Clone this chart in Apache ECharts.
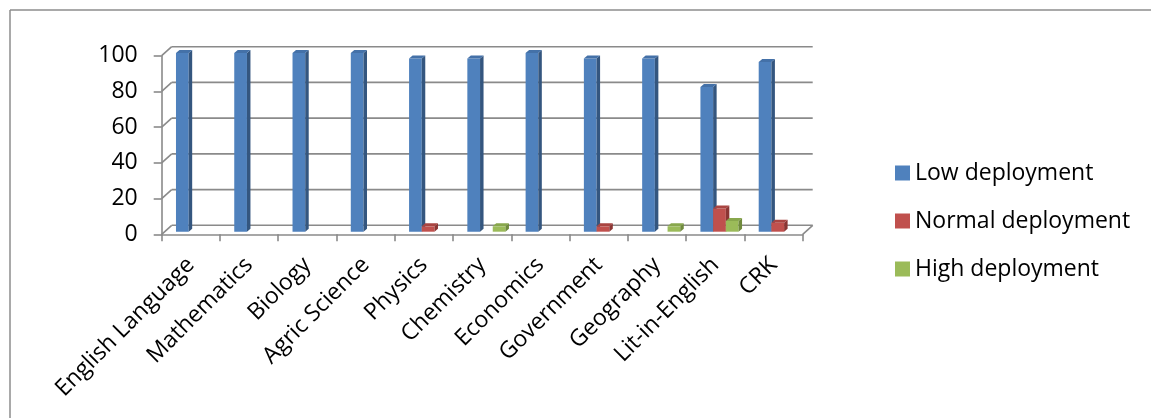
<!DOCTYPE html>
<html>
<head>
<meta charset="utf-8">
<script src="https://cdn.jsdelivr.net/npm/echarts@6/dist/echarts.min.js"></script>
<style>
html,body{margin:0;padding:0;background:#fff;}
#chart{width:1151px;height:418px;}
</style>
</head>
<body>
<div id="chart"></div>
<script>
const categories = ['English Language','Mathematics','Biology','Agric Science','Physics','Chemistry','Economics','Government','Geography','Lit-in-English','CRK'];
const lowDeployment    = [100,100,100,100,97,97,100,97,97,81,95];
const normalDeployment = [0,0,0,0,3,0,0,3,0,13,5];
const highDeployment   = [0,0,0,0,0,3,0,0,3,6,0];
const yTicks = [0,20,40,60,80,100];
const seriesNames = ['Low deployment','Normal deployment','High deployment'];

const FONT = 'Open Sans';
const DEPTH_X = 10, DEPTH_Y = 9;
const BAR_DX = 3.5, BAR_DY = 3;
const LINE = '#8a8a8a';
const palettes = [
  {front:'#4f81bd', side:'#34567f', top:'#4471a8'},
  {front:'#c0504d', side:'#8b3533', top:'#a94441'},
  {front:'#9bbb59', side:'#6f8a3c', top:'#88a74c'}
];

function barRenderer(sIdx){
  const pal = palettes[sIdx];
  return function(params, api){
    const cat = api.value(0), v = api.value(1);
    if (!v) return;
    const band = api.size([1,0])[0];
    const center = api.coord([cat, 0]);
    const topPt = api.coord([cat, v]);
    const barW = band * 0.218;
    const x0 = center[0] - band/2 + band*0.245 + sIdx*barW;
    const x1 = x0 + barW;
    const base = center[1] - 2.6;
    const top = topPt[1] - 2.6;
    return {
      type:'group',
      children:[
        {type:'rect', shape:{x:x0, y:top, width:barW, height:base-top}, style:{fill:pal.front}},
        {type:'polygon', shape:{points:[[x1,top],[x1+BAR_DX,top-BAR_DY],[x1+BAR_DX,base-BAR_DY],[x1,base]]}, style:{fill:pal.side}},
        {type:'polygon', shape:{points:[[x0,top],[x0+BAR_DX,top-BAR_DY],[x1+BAR_DX,top-BAR_DY],[x1,top]]}, style:{fill:pal.top}}
      ]
    };
  };
}

function frameRenderer(params, api){
  const cs = params.coordSys;
  const t = api.value(0);
  const y = api.coord([0, t])[1];
  const x = cs.x, w = cs.width;
  const st = {stroke:LINE, lineWidth:1.6, fill:null};
  const children = [
    {type:'line', shape:{x1:x, y1:y, x2:x+DEPTH_X, y2:y-DEPTH_Y}, style:st},
    {type:'line', shape:{x1:x+DEPTH_X, y1:y-DEPTH_Y, x2:x+w+DEPTH_X, y2:y-DEPTH_Y}, style:st}
  ];
  if (t === 0) {
    children.push({type:'line', shape:{x1:x+w, y1:y, x2:x+w+DEPTH_X, y2:y-DEPTH_Y}, style:st});
  }
  return {type:'group', children};
}

const seriesData = [lowDeployment, normalDeployment, highDeployment];

const chart = echarts.init(document.getElementById('chart'), null, {renderer:'canvas'});
chart.setOption({
  animation:false,
  backgroundColor:'#ffffff',
  textStyle:{fontFamily:FONT},
  graphic:[
    {type:'line', shape:{x1:10, y1:10, x2:1151, y2:10}, style:{stroke:'#8c8c8c', lineWidth:1.5}, z:100},
    {type:'line', shape:{x1:10, y1:10, x2:10, y2:418}, style:{stroke:'#8c8c8c', lineWidth:1.5}, z:100}
  ],
  grid:{left:161.7, right:348.3, top:55.7, bottom:183.7, containLabel:false},
  legend:{
    orient:'vertical', left:890, top:156,
    itemWidth:15, itemHeight:15, itemGap:24, itemTextGap:6,
    icon:'rect',
    data:seriesNames,
    textStyle:{fontFamily:FONT, fontSize:23, color:'#000', lineHeight:24},
    selectedMode:false
  },
  xAxis:{
    type:'category', data:categories, boundaryGap:true,
    axisLine:{lineStyle:{color:LINE, width:1.6}},
    axisTick:{show:true, length:7, lineStyle:{color:LINE, width:1.6}},
    axisLabel:{rotate:45, interval:0, margin:27, fontFamily:FONT, fontSize:23, color:'#000'},
    splitLine:{show:false}
  },
  yAxis:{
    type:'value', min:0, max:100, interval:20,
    axisLine:{show:true, lineStyle:{color:LINE, width:1.6}},
    axisTick:{show:true, length:8, lineStyle:{color:LINE, width:1.6}},
    axisLabel:{margin:24, fontFamily:FONT, fontSize:23, color:'#000',
      formatter:function(v){ return yTicks.indexOf(v) >= 0 ? String(v) : ''; }},
    splitLine:{show:false}
  },
  series:[
    {type:'custom', name:'frame', renderItem:frameRenderer, data:yTicks.map(t=>[t]), encode:{y:0}, clip:false, z:1, silent:true},
  ].concat(seriesNames.map((name, s)=>({
    type:'custom', name:name,
    itemStyle:{color:palettes[s].front},
    renderItem:barRenderer(s),
    data:seriesData[s].map((v,i)=>[i, v]),
    encode:{x:0, y:1},
    clip:false, z:2+s
  })))
});
</script>
</body>
</html>
